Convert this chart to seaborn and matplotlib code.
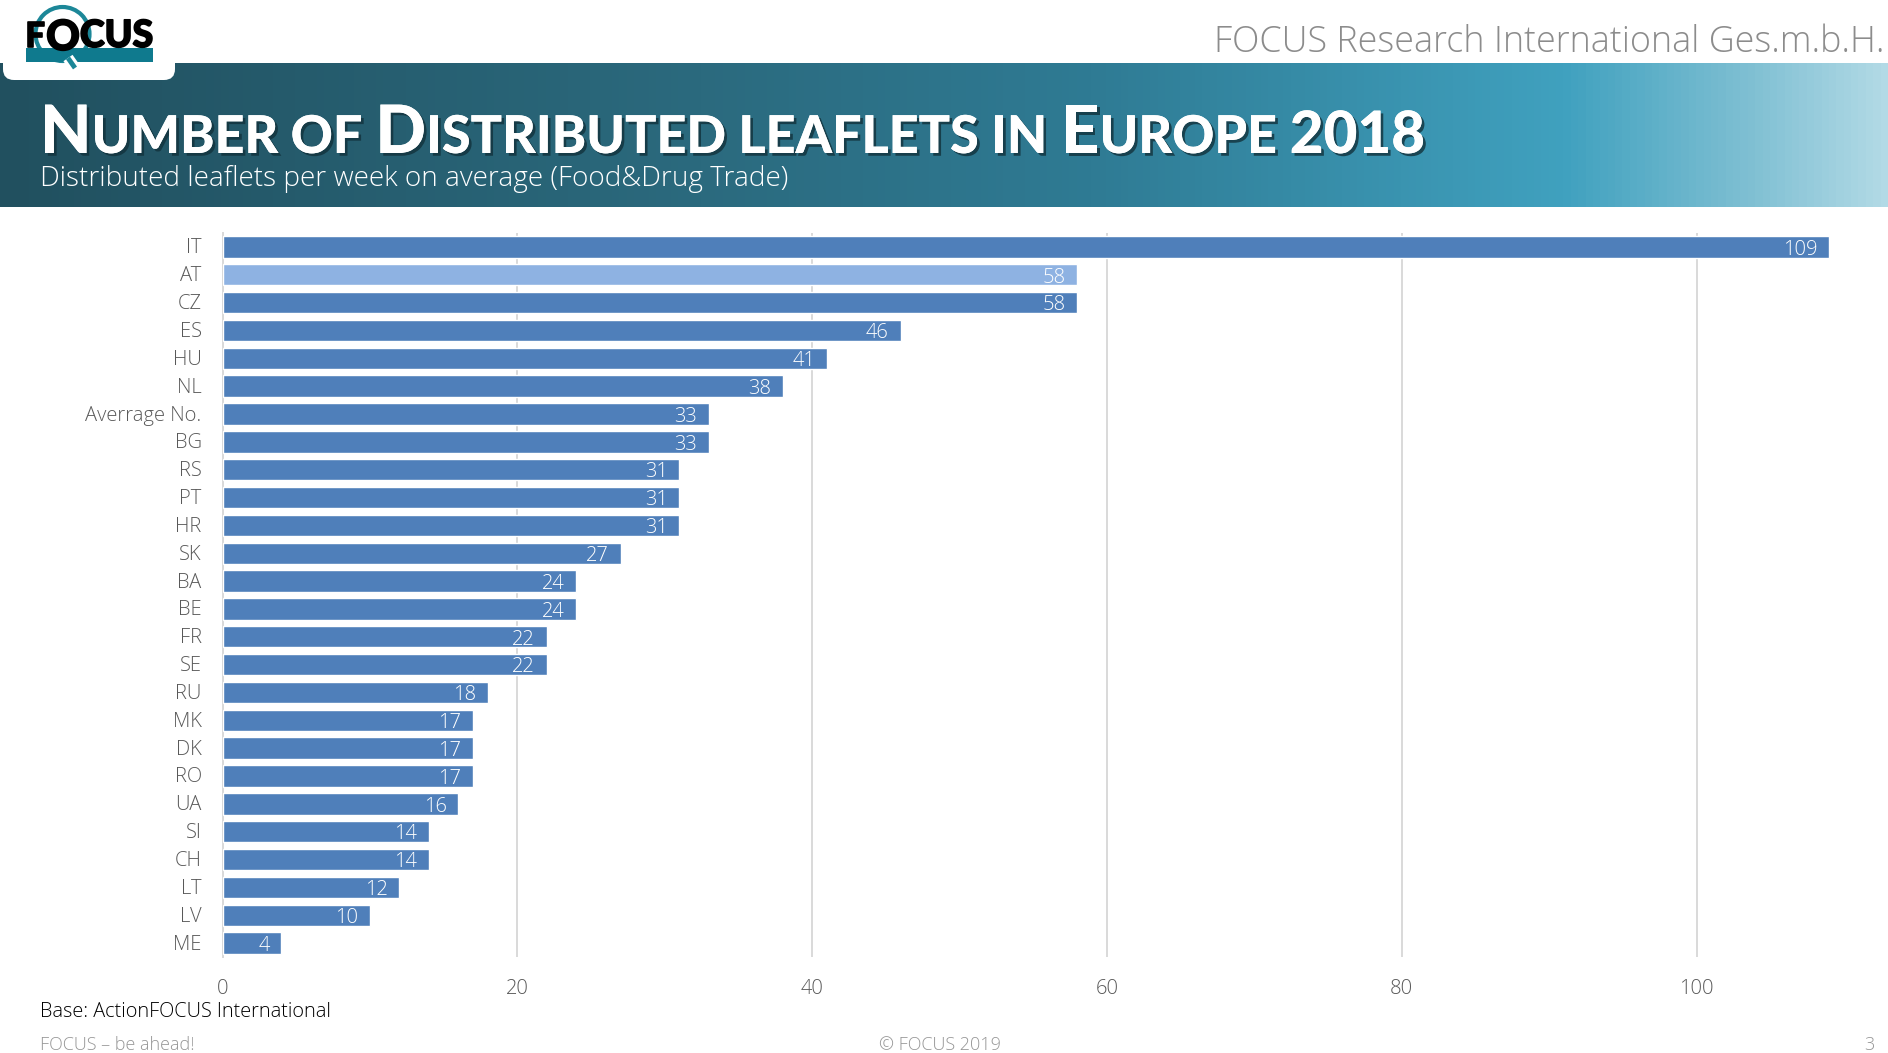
"""
Distributed leaflets chart, FOCUS slide layout
"""
import numpy as np
import pandas as pd
import matplotlib
matplotlib.use('Agg')
import matplotlib.pyplot as plt
import matplotlib.patheffects as pe
from matplotlib.colors import LinearSegmentedColormap
from matplotlib.patches import Circle, FancyBboxPatch, Rectangle
from matplotlib.transforms import ScaledTranslation
import seaborn as sns

countries = ['IT', 'AT', 'CZ', 'ES', 'HU', 'NL', 'Averrage No.', 'BG', 'RS', 'PT', 'HR', 'SK', 'BA',
             'BE', 'FR', 'SE', 'RU', 'MK', 'DK', 'RO', 'UA', 'SI', 'CH', 'LT', 'LV', 'ME']
leaflets = [109, 58, 58, 46, 41, 38, 33, 33, 31, 31, 31, 27, 24, 24, 22, 22, 18, 17, 17, 17, 16, 14, 14, 12, 10, 4]
x_ticks = [0, 20, 40, 60, 80, 100]
title_parts = [('N', 'big'), ('UMBER OF ', 'small'), ('D', 'big'), ('ISTRIBUTED LEAFLETS IN ', 'small'),
               ('E', 'big'), ('UROPE ', 'small'), ('2018', 'digits')]

W, H = 1888, 1053
BAR = '#4f7fba'
HIGHLIGHT = '#8eb2e2'
GRID = '#d9d9d9'
TICK_TEXT = '#595959'
RING = '#1c8798'

sns.set_theme(style='white')
plt.rcParams['font.family'] = ['Open Sans', 'DejaVu Sans']
fig = plt.figure(figsize=(W / 100, H / 100), dpi=100, facecolor='white')

# slide furniture, in pixel coordinates
bg = fig.add_axes([0, 0, 1, 1])
bg.axis('off')
band = LinearSegmentedColormap.from_list('band', [(0, '#21505f'), (0.37, '#2b6a7e'), (0.58, '#2f7b94'),
                                                  (0.83, '#40a1bf'), (0.93, '#80c0d3'), (1, '#b2dae6')])
bg.imshow(np.linspace(0, 1, 512).reshape(1, -1), cmap=band, aspect='auto', extent=(0, W, 207, 63), zorder=1)
bg.set_xlim(0, W)
bg.set_ylim(H, 0)

# logo
bg.add_patch(FancyBboxPatch((3, -30), 172, 110, boxstyle='round,pad=0,rounding_size=11', fc='white', ec='none', zorder=2))
bg.add_patch(Circle((62.5, 34), 27, fc='white', ec=RING, lw=3, zorder=2.5))
bg.add_patch(Rectangle((26, 48), 127, 14, fc='#0f7a8e', ec='none', zorder=3))
bg.plot([68, 75], [58, 68], color='white', lw=8, zorder=3.1, solid_capstyle='butt')
bg.plot([68, 75], [58, 68], color=RING, lw=3.5, zorder=3.2, solid_capstyle='butt')
logo_stroke = [pe.withStroke(linewidth=1.2, foreground='black')]
bg.text(25, 47, 'F', family='Lato', weight='black', size=25, color='black', va='baseline', zorder=4, path_effects=logo_stroke)
bg.text(63, 34.5, 'O', family='Lato', weight='black', size=30, color='black', va='center_baseline', ha='center', zorder=4,
        path_effects=logo_stroke)
bg.text(153, 47, 'CUS', family='Lato', weight='black', size=27, color='black', va='baseline', ha='right', zorder=4,
        path_effects=logo_stroke)

bg.text(1884, 43, 'FOCUS Research International Ges.m.b.H.', size=25.8, weight='light', color='#8c8c8c',
        ha='right', va='center', zorder=3)

# small caps title, pieces laid next to each other
renderer = fig.canvas.get_renderer()
x = 40
sizes = {'big': 48, 'small': 37.5, 'digits': 42}
shadow = [pe.withSimplePatchShadow(offset=(2, -2), shadow_rgbFace='#12323c', alpha=0.8), pe.Normal()]
for part, kind in title_parts:
    bg.text(x, 153, part, family='Lato', weight='black', size=sizes[kind], color='white', va='baseline',
            ha='left', zorder=4, path_effects=shadow)
    probe = bg.text(0, 0, part.replace(' ', '.'), family='Lato', weight='black', size=sizes[kind])
    x += probe.get_window_extent(renderer).width
    probe.remove()

bg.text(40, 186, 'Distributed leaflets per week on average (Food&Drug Trade)', size=20.1, weight='light', color='white',
        va='baseline', ha='left', zorder=4)

bg.text(40, 1012, 'Base: ActionFOCUS International', size=14.35, weight='light', color='black', va='center')
bg.text(40, 1045, 'FOCUS – be ahead!', size=13, weight='light', color='#969696', va='center')
bg.text(940, 1045, '© FOCUS 2019', size=13, weight='light', color='#969696', va='center', ha='center')
bg.text(1874, 1045, '3', size=13, weight='light', color='#969696', va='center', ha='right')

# chart
ax = fig.add_axes([222.5 / W, 1 - 957 / H, (1844 - 222.5) / W, (957 - 233) / H])
ax.patch.set_alpha(0)
df = pd.DataFrame({'country': countries, 'leaflets': leaflets})
palette = {c: (HIGHLIGHT if c == 'AT' else BAR) for c in countries}
sns.barplot(data=df, x='leaflets', y='country', hue='country', palette=palette, orient='h', width=0.77,
            dodge=False, legend=False, saturation=1, ax=ax, zorder=3)
for container in ax.containers:
    for label in ax.bar_label(container, padding=-8.5, color='white', size=14.5, weight='light', zorder=4):
        label.set_ha('right')
        label.xyann = (-8.5, -2)

ax.set_xlim(0, 110)
ax.set_ylim(len(countries) - 0.5, -0.5)
ax.set_xticks(x_ticks)
ax.set_xlabel('')
ax.set_ylabel('')
ax.xaxis.grid(True, color=GRID, lw=1.4, zorder=0)
ax.set_axisbelow(True)
ax.tick_params(axis='x', length=0, pad=15.7, labelsize=14.5, labelcolor=TICK_TEXT)
ax.tick_params(axis='y', length=0, pad=15, labelsize=14.5, labelcolor=TICK_TEXT)
for label in ax.get_xticklabels() + ax.get_yticklabels():
    label.set_fontweight('light')
nudge = ScaledTranslation(0, 1 / 100, fig.dpi_scale_trans)
for label in ax.get_yticklabels():
    label.set_transform(label.get_transform() + nudge)
sns.despine(ax=ax, top=True, right=True, bottom=True)
ax.spines['left'].set_color(GRID)
ax.spines['left'].set_linewidth(1.4)

fig.savefig('out.png', dpi=100, facecolor='white')
